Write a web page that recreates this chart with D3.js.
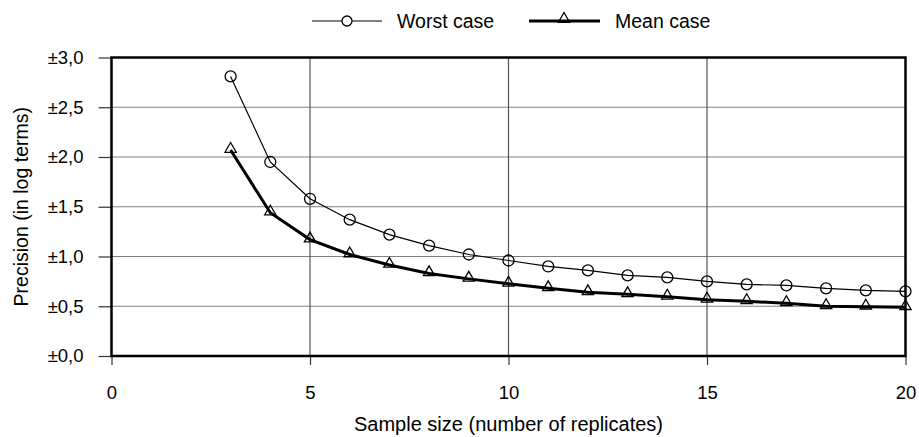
<!DOCTYPE html>
<html><head><meta charset="utf-8">
<script src="https://cdn.jsdelivr.net/npm/d3@7"></script>
<style>body{margin:0;background:#fff}svg{display:block;font-family:"Liberation Sans",Arial,sans-serif}</style>
</head><body><svg id="c" width="919" height="437"></svg>
<script>
const sampleSizes = [3,4,5,6,7,8,9,10,11,12,13,14,15,16,17,18,19,20];
const worstCase = [2.81,1.95,1.58,1.37,1.22,1.11,1.02,0.96,0.90,0.86,0.81,0.79,0.75,0.72,0.71,0.68,0.66,0.65];
const meanCase  = [2.07,1.44,1.17,1.02,0.915,0.83,0.775,0.725,0.68,0.64,0.62,0.595,0.565,0.55,0.53,0.50,0.495,0.49];
const xTicks = [0,5,10,15,20];
const yTicks = [0,0.5,1,1.5,2,2.5,3];
const seriesNames = ["Worst case","Mean case"];

const svg = d3.select("#c");
const x = d3.scaleLinear().domain([0,20]).range([111.5,905.5]);
const y = d3.scaleLinear().domain([0,3]).range([356,57.5]);
const fmtY = v => "±" + d3.format(".1f")(v).replace(".", ",");

// gridlines
svg.append("g").selectAll("line").data(yTicks.slice(1,-1)).join("line")
  .attr("x1",x(0)).attr("x2",x(20)).attr("y1",d=>y(d)).attr("y2",d=>y(d))
  .attr("stroke","#808080").attr("stroke-width",1.2);
svg.append("g").selectAll("line").data(xTicks.slice(1,-1)).join("line")
  .attr("x1",d=>x(d)).attr("x2",d=>x(d)).attr("y1",y(3)).attr("y2",y(0))
  .attr("stroke","#555").attr("stroke-width",1.2);

// axes
const xAxis = svg.append("g").attr("transform",`translate(0,${y(0)})`)
  .call(d3.axisBottom(x).tickValues(xTicks).tickSize(9).tickPadding(21).tickFormat(d3.format("d")));
xAxis.select(".domain").remove();
xAxis.selectAll("line").attr("stroke","#333").attr("stroke-width",1.2);
xAxis.selectAll("text").attr("font-size",18.5).attr("fill","#000").attr("font-family","Liberation Sans, Arial");
const yAxis = svg.append("g").attr("transform",`translate(${x(0)},0)`)
  .call(d3.axisLeft(y).tickValues(yTicks).tickSize(13).tickPadding(15).tickFormat(fmtY));
yAxis.select(".domain").remove();
yAxis.selectAll("line").attr("stroke","#333").attr("stroke-width",1.2);
yAxis.selectAll("text").attr("font-size",18.5).attr("fill","#000").attr("font-family","Liberation Sans, Arial");

// frame
svg.append("rect").attr("x",x(0)).attr("y",y(3)).attr("width",x(20)-x(0)).attr("height",y(0)-y(3))
  .attr("fill","none").attr("stroke","#000").attr("stroke-width",2.5);

const line = d3.line().x(d=>x(d[0])).y(d=>y(d[1]));
const wData = sampleSizes.map((s,i)=>[s,worstCase[i]]);
const mData = sampleSizes.map((s,i)=>[s,meanCase[i]]);

svg.append("path").datum(wData).attr("d",line).attr("fill","none").attr("stroke","#000").attr("stroke-width",1.2);
svg.append("path").datum(mData).attr("d",line).attr("fill","none").attr("stroke","#000").attr("stroke-width",3);

const tri = d3.symbol().type(d3.symbolTriangle).size(55);
svg.append("g").selectAll("circle").data(wData).join("circle")
  .attr("cx",d=>x(d[0])).attr("cy",d=>y(d[1])).attr("r",5.5)
  .attr("fill","none").attr("stroke","#000").attr("stroke-width",1.3);
svg.append("g").selectAll("path").data(mData).join("path")
  .attr("d",tri).attr("transform",d=>`translate(${x(d[0])},${y(d[1])-1})`)
  .attr("fill","none").attr("stroke","#000").attr("stroke-width",1.3);

// axis titles
svg.append("text").attr("x",(x(0)+x(20))/2).attr("y",431).attr("text-anchor","middle")
  .attr("font-size",20).text("Sample size (number of replicates)");
svg.append("text").attr("transform",`translate(28,${(y(0)+y(3))/2}) rotate(-90)`).attr("text-anchor","middle")
  .attr("font-size",19.5).text("Precision (in log terms)");

// legend
const lg = svg.append("g");
lg.append("line").attr("x1",312).attr("x2",382).attr("y1",21).attr("y2",21).attr("stroke","#000").attr("stroke-width",1.2);
lg.append("circle").attr("cx",347).attr("cy",21).attr("r",5).attr("fill","#fff").attr("stroke","#000").attr("stroke-width",1.3);
lg.append("text").attr("x",397).attr("y",28).attr("font-size",19.5).text(seriesNames[0]);
lg.append("line").attr("x1",529).attr("x2",600).attr("y1",21).attr("y2",21).attr("stroke","#000").attr("stroke-width",3);
lg.append("path").attr("d",tri).attr("transform","translate(564,19)").attr("fill","none").attr("stroke","#000").attr("stroke-width",1.3);
lg.append("text").attr("x",615).attr("y",28).attr("font-size",19.5).text(seriesNames[1]);
</script></body></html>
